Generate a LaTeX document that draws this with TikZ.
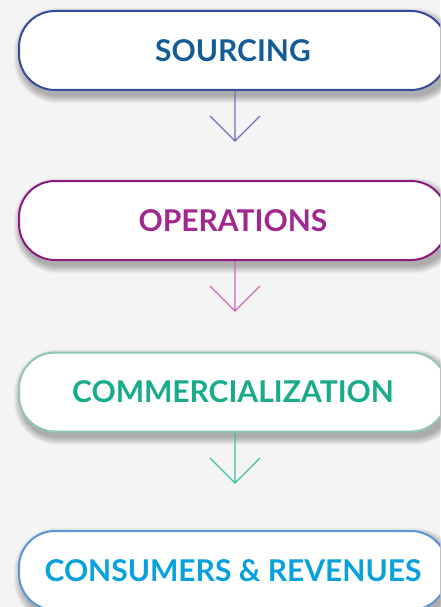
\documentclass[tikz,border=0pt]{standalone}
\usepackage{fontspec}
\setmainfont{Lato}
\usetikzlibrary{backgrounds,calc}

\definecolor{pagebg}{HTML}{F4F4F4}
\definecolor{srcline}{HTML}{3A4A9A}
\definecolor{srctext}{HTML}{155C96}
\definecolor{srcarrow}{HTML}{6A74B4}
\definecolor{opsline}{HTML}{8A1A7E}
\definecolor{opstext}{HTML}{A0288F}
\definecolor{opsarrow}{HTML}{C46CB8}
\definecolor{comline}{HTML}{8EC8B4}
\definecolor{comtext}{HTML}{1AAB8B}
\definecolor{comarrow}{HTML}{40C0A0}
\definecolor{conline}{HTML}{5A96D4}
\definecolor{context}{HTML}{09A1DD}

\begin{document}
\begin{tikzpicture}[x=1pt,y=-1pt,
  stage/.style={draw, line width=2pt, fill=white, rounded corners=36pt,
    minimum width=428pt, minimum height=79pt, inner sep=0pt,
    text height=21.5pt, text depth=0pt,
    font=\fontsize{30}{36}\selectfont\bfseries},
  flow/.style={line width=1.3pt, line join=miter}]

\useasboundingbox (0,0) rectangle (440,607);
\clip (0,0) rectangle (440,607);

% stages
\node[stage, draw=srcline, text=srctext] (src) at (233,50.5)  {SOURCING};
\node[stage, draw=opsline, text=opstext] (ops) at (233,220.5) {OPERATIONS};
\node[stage, draw=comline, text=comtext] (com) at (233,392)   {COMMERCIALIZATION};
\node[stage, draw=conline, text=context] (con) at (233,570.5) {CONSUMERS \& REVENUES};

% arrows between stages: a shaft and an open V head
\coordinate (e1) at (235,141);
\coordinate (e2) at (235,311);
\coordinate (e3) at (235,483);
\draw[flow, draw=srcarrow] (src.south -| e1) -- (e1) ($(e1)+(-25,-25)$) -- (e1) -- ($(e1)+(25,-25)$);
\draw[flow, draw=opsarrow] (ops.south -| e2) -- (e2) ($(e2)+(-25,-25)$) -- (e2) -- ($(e2)+(25,-25)$);
\draw[flow, draw=comarrow] (com.south -| e3) -- (e3) ($(e3)+(-25,-25)$) -- (e3) -- ($(e3)+(25,-25)$);

% page background and soft shadows under the stages
\begin{scope}[on background layer]
  \fill[pagebg] (0,0) rectangle (440,607);
  \foreach \n in {src,ops,com,con}{
    \foreach \e in {0,...,7}{
      \pgfmathsetmacro\rr{36+\e}
      \fill[black, opacity=0.04, rounded corners=\rr pt]
        ($(\n.north west)+(3-\e,5-\e)$) rectangle ($(\n.south east)+(3+\e,5+\e)$);
    }
  }
\end{scope}
\end{tikzpicture}
\end{document}
